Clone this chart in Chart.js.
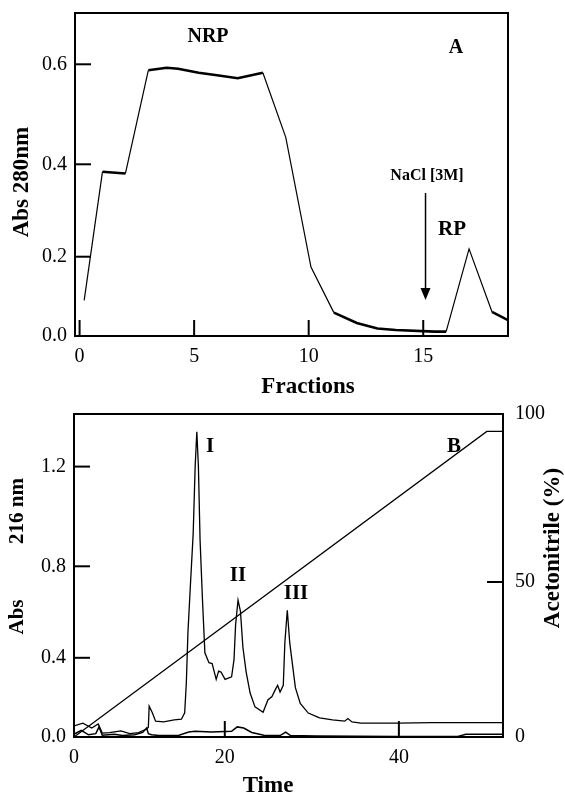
<!DOCTYPE html>
<html>
<head>
<meta charset="utf-8">
<script src="https://cdn.jsdelivr.net/npm/chart.js@4.4.1/dist/chart.umd.min.js"></script>
<style>
  body { margin: 0; background: #fff; }
  canvas { position: absolute; left: 0; }
  #chartA { top: 0; }
  #chartB { top: 400px; }
</style>
</head>
<body>
<canvas id="chartA" width="565" height="400"></canvas>
<canvas id="chartB" width="565" height="398"></canvas>
<script>
// Panel A: ion exchange fractions
const fractions = [0.2, 1.0, 2.0, 3.0, 3.8, 4.3, 5.2, 6.0, 6.9, 8.0, 9.0, 10.1, 11.1, 12.1, 13.0, 13.8, 15.5, 16.0, 17.0, 18.0, 18.7];
const abs280 = [0.090, 0.384, 0.380, 0.588, 0.593, 0.591, 0.583, 0.578, 0.572, 0.583, 0.454, 0.174, 0.059, 0.033, 0.019, 0.015, 0.011, 0.011, 0.217, 0.061, 0.040];
const fracTicks = [0, 5, 10, 15];
const abs280Ticks = [0, 0.2, 0.4, 0.6];
const naclFraction = 15.1;

// Panel B: HPLC run
const timeUpper = [0, 1.18, 2.36, 3.21, 3.75, 4.72, 6.22, 7.39, 8.57, 9.54, 9.86, 9.97, 10.39, 10.82, 11.89, 13.29, 14.25, 14.68, 14.90, 15.11, 15.43, 15.81, 16.07, 16.29, 16.50, 16.72, 17.04, 17.36, 17.90, 18.32, 18.86, 19.18, 19.50, 20.03, 20.78, 21.06, 21.24, 21.52, 21.80, 22.08, 22.45, 22.91, 23.47, 24.40, 24.95, 25.42, 25.79, 26.07, 26.35, 26.72, 26.90, 27.18, 27.46, 28.11, 28.67, 29.59, 30.62, 30.89, 32.38, 33.77, 34.14, 34.61, 35.63, 39.80, 43.89, 48.07, 51.96];
const abs216 = [0.056, 0.070, 0.045, 0.066, 0.020, 0.022, 0.031, 0.017, 0.022, 0.039, 0.048, 0.156, 0.122, 0.080, 0.076, 0.086, 0.090, 0.122, 0.274, 0.509, 0.712, 0.933, 1.20, 1.34, 1.20, 0.906, 0.654, 0.422, 0.375, 0.371, 0.291, 0.333, 0.328, 0.291, 0.304, 0.391, 0.544, 0.652, 0.603, 0.446, 0.329, 0.222, 0.152, 0.125, 0.187, 0.204, 0.238, 0.261, 0.227, 0.261, 0.466, 0.608, 0.466, 0.249, 0.170, 0.121, 0.102, 0.097, 0.086, 0.080, 0.093, 0.076, 0.070, 0.070, 0.073, 0.073, 0.073];
const timeLower = [0, 0.96, 1.93, 2.89, 3.32, 3.75, 5.36, 6.43, 8.04, 9.11, 9.64, 9.86, 10.29, 11.25, 13.93, 15.22, 16.07, 18.22, 20.78, 21.43, 22.17, 23.10, 24.49, 26.35, 27.0, 27.55, 30.52, 39.80, 46.77, 47.70, 51.96];
const abs216Low = [0.014, 0.034, 0.011, 0.017, 0.051, 0.009, 0.014, 0.007, 0.011, 0.023, 0.045, 0.017, 0.011, 0.007, 0.009, 0.025, 0.029, 0.025, 0.029, 0.051, 0.045, 0.023, 0.009, 0.007, 0.025, 0.007, 0.005, 0.003, 0.003, 0.014, 0.014];
const gradTime = [0, 50.1, 51.96];
const acetonitrile = [0, 94.8, 94.8];
const timeTicks = [0, 20, 40];
const abs216Ticks = [0, 0.4, 0.8, 1.2];
const acnTicks = [0, 50, 100];

// the printed axes are not evenly spaced: [value, fraction of axis length]
const axisKnots = {
  yA: [[0, 0], [0.2, 0.2455], [0.4, 0.5316], [0.6, 0.8412], [0.7026, 1]],
  xB: [[0, 0], [20, 0.3515], [40, 0.7573], [51.96, 1]],
  yB: [[0, 0], [0.4, 0.2452], [0.8, 0.5285], [1.2, 0.8372], [1.411, 1]],
  rB: [[0, 0], [50, 0.4799], [100, 1]]
};

class StretchScale extends Chart.LinearScale {
  static id = 'stretch';
  static defaults = Chart.LinearScale.defaults;
  toDecimal(v) {
    const k = axisKnots[this.id];
    let i = 1;
    while (i < k.length - 1 && v > k[i][0]) i++;
    const [v0, d0] = k[i - 1], [v1, d1] = k[i];
    return d0 + (v - v0) / (v1 - v0) * (d1 - d0);
  }
  getPixelForValue(v) {
    return this.getPixelForDecimal(this.toDecimal(v));
  }
  getValueForPixel(p) {
    const d = this.getDecimalForPixel(p);
    const k = axisKnots[this.id];
    let i = 1;
    while (i < k.length - 1 && d > k[i][1]) i++;
    const [v0, d0] = k[i - 1], [v1, d1] = k[i];
    return v0 + (d - d0) / (d1 - d0) * (v1 - v0);
  }
}
Chart.register(StretchScale);

const serif = '"Liberation Serif", "Times New Roman", serif';
Chart.defaults.font.family = serif;
Chart.defaults.color = '#000';

function pts(xs, ys) {
  return xs.map((x, i) => ({ x: x, y: ys[i] }));
}

function write(ctx, text, x, y, size, rotate) {
  ctx.save();
  ctx.font = 'bold ' + size + 'px ' + serif;
  ctx.fillStyle = '#000';
  ctx.textAlign = 'center';
  ctx.textBaseline = 'middle';
  ctx.translate(x, y);
  if (rotate) ctx.rotate(-Math.PI / 2);
  ctx.fillText(text, 0, 0);
  ctx.restore();
}

// fixed axis size, and no extra room asked for the end labels
function fitTo(size) {
  return s => {
    if (s.isHorizontal()) s.height = size; else s.width = size;
    s.paddingTop = s.paddingBottom = s.paddingLeft = s.paddingRight = 0;
  };
}

// box round the plot and short tick marks pointing inwards
const boxAndTicks = {
  id: 'boxAndTicks',
  afterDatasetsDraw(chart) {
    const { ctx, chartArea: a } = chart;
    ctx.save();
    ctx.strokeStyle = '#000';
    ctx.lineWidth = 2;
    ctx.strokeRect(a.left, a.top, a.right - a.left, a.bottom - a.top);
    Object.values(chart.scales).forEach(s => {
      s.ticks.forEach(t => {
        const p = s.getPixelForValue(t.value);
        ctx.beginPath();
        if (s.axis === 'x') {
          ctx.moveTo(p, a.bottom); ctx.lineTo(p, a.bottom - 16);
        } else if (s.position === 'left') {
          ctx.moveTo(a.left, p); ctx.lineTo(a.left + 16, p);
        } else {
          ctx.moveTo(a.right, p); ctx.lineTo(a.right - 16, p);
        }
        ctx.stroke();
      });
    });
    ctx.restore();
  }
};

function setTicks(values) {
  return s => { s.ticks = values.map(v => ({ value: v })); };
}

const tickFont = { size: 20 };
const noGrid = { display: false, drawTicks: false };

// ---- Panel A ----
const labelsA = {
  id: 'labelsA',
  afterDraw(chart) {
    const ctx = chart.ctx;
    const x = chart.scales.x, y = chart.scales.yA;
    write(ctx, 'Abs 280nm', 22, 182, 23, true);
    write(ctx, 'Fractions', 308, 387, 23);
    write(ctx, 'NRP', 208, 37, 20);
    write(ctx, 'A', 456, 48, 20);
    write(ctx, 'NaCl [3M]', 427, 176, 16);
    write(ctx, 'RP', 452, 230, 21);
    // arrow for the salt step
    const ax = x.getPixelForValue(naclFraction);
    const y0 = y.getPixelForValue(0.338), y1 = y.getPixelForValue(0.091);
    ctx.save();
    ctx.strokeStyle = '#000';
    ctx.fillStyle = '#000';
    ctx.lineWidth = 1.5;
    ctx.beginPath();
    ctx.moveTo(ax, y0); ctx.lineTo(ax, y1 - 10);
    ctx.stroke();
    ctx.beginPath();
    ctx.moveTo(ax - 5, y1 - 12); ctx.lineTo(ax + 5, y1 - 12); ctx.lineTo(ax, y1);
    ctx.closePath();
    ctx.fill();
    ctx.restore();
  }
};

new Chart(document.getElementById('chartA'), {
  type: 'line',
  data: {
    datasets: [{
      data: pts(fractions, abs280),
      yAxisID: 'yA',
      borderColor: '#000',
      borderWidth: 1.2,
      pointRadius: 0,
      tension: 0,
      segment: {
        borderWidth: c => Math.abs(c.p1.y - c.p0.y) < Math.abs(c.p1.x - c.p0.x) ? 2.6 : 1.2
      }
    }]
  },
  options: {
    responsive: false,
    animation: false,
    layout: { padding: { top: 13, right: 57, left: 0, bottom: 0 } },
    plugins: { legend: { display: false }, tooltip: { enabled: false } },
    scales: {
      x: {
        type: 'linear', min: -0.2, max: 18.7,
        afterBuildTicks: setTicks(fracTicks),
        afterFit: fitTo(64),
        grid: noGrid, border: { display: false },
        ticks: { font: tickFont, padding: 9, maxRotation: 0 }
      },
      yA: {
        type: 'stretch', position: 'left', min: 0, max: 0.7026,
        afterBuildTicks: setTicks(abs280Ticks),
        afterFit: fitTo(75),
        grid: noGrid, border: { display: false },
        ticks: { font: tickFont, padding: 8, callback: v => v.toFixed(1) }
      }
    }
  },
  plugins: [boxAndTicks, labelsA]
});

// ---- Panel B ----
const labelsB = {
  id: 'labelsB',
  afterDraw(chart) {
    const ctx = chart.ctx;
    write(ctx, 'Abs', 18, 217, 21, true);
    write(ctx, '216 nm', 18, 111, 21, true);
    write(ctx, 'Acetonitrile (%)', 553, 148, 23, true);
    write(ctx, 'Time', 268, 386, 23);
    write(ctx, 'I', 210, 47, 21);
    write(ctx, 'II', 238, 176, 21);
    write(ctx, 'III', 296, 194, 21);
    write(ctx, 'B', 454, 47, 21);
  }
};

const lineB = { xAxisID: 'xB', borderColor: '#000', pointRadius: 0, tension: 0 };

new Chart(document.getElementById('chartB'), {
  type: 'line',
  data: {
    datasets: [
      { ...lineB, data: pts(timeUpper, abs216), yAxisID: 'yB', borderWidth: 1.3 },
      { ...lineB, data: pts(timeLower, abs216Low), yAxisID: 'yB', borderWidth: 1.5 },
      { ...lineB, data: pts(gradTime, acetonitrile), yAxisID: 'rB', borderWidth: 1.3 }
    ]
  },
  options: {
    responsive: false,
    animation: false,
    layout: { padding: { top: 14, right: 0, left: 0, bottom: 0 } },
    plugins: { legend: { display: false }, tooltip: { enabled: false } },
    scales: {
      xB: {
        type: 'stretch', position: 'bottom', axis: 'x', min: 0, max: 51.96,
        afterBuildTicks: setTicks(timeTicks),
        afterFit: fitTo(61),
        grid: noGrid, border: { display: false },
        ticks: { font: tickFont, padding: 9, maxRotation: 0 }
      },
      yB: {
        type: 'stretch', position: 'left', min: 0, max: 1.411,
        afterBuildTicks: setTicks(abs216Ticks),
        afterFit: fitTo(74),
        grid: noGrid, border: { display: false },
        ticks: { font: tickFont, padding: 8, callback: v => v.toFixed(1) }
      },
      rB: {
        type: 'stretch', position: 'right', min: 0, max: 100,
        afterBuildTicks: setTicks(acnTicks),
        afterFit: fitTo(62),
        grid: noGrid, border: { display: false },
        ticks: { font: tickFont, padding: 12 }
      }
    }
  },
  plugins: [boxAndTicks, labelsB]
});
</script>
</body>
</html>
